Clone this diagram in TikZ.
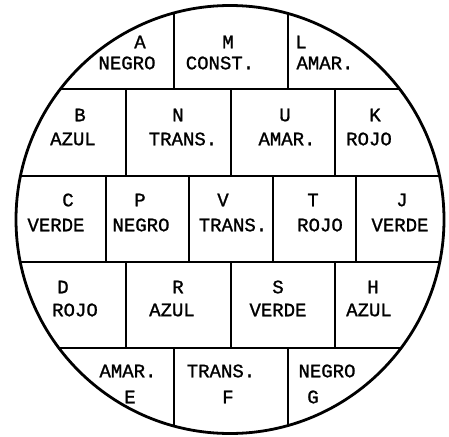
\documentclass[tikz,border=0pt]{standalone}
\usepackage{fontspec}
\newfontfamily\typer[FakeBold=1.2]{Liberation Mono}
\usetikzlibrary{calc}

\begin{document}
\begin{tikzpicture}[x=1pt, y=-1pt,
    % style of the cell texts
    lbl/.style={font=\typer\fontsize{19}{22}\selectfont, inner sep=0pt},
    % style of the dividing lines
    divider/.style={line width=1.7pt}
]

\useasboundingbox (0,0) rectangle (449,436);

% Define the centre of the disc
\coordinate (O) at (230,219.5);

% Draw the dividing lines inside the disc
\begin{scope}
\clip (O) circle[radius=214pt];
\draw[divider] (0,89) -- (449,89);
\draw[divider] (0,176) -- (449,176);
\draw[divider] (0,262) -- (449,262);
\draw[divider] (0,348) -- (449,348);
% first and last row
\draw[divider] (174,0) -- (174,89);
\draw[divider] (288,0) -- (288,89);
\draw[divider] (174,348) -- (174,436);
\draw[divider] (288,348) -- (288,436);
% second and fourth row
\draw[divider] (126,89) -- (126,176);
\draw[divider] (231,89) -- (231,176);
\draw[divider] (335,89) -- (335,176);
\draw[divider] (126,262) -- (126,348);
\draw[divider] (231,262) -- (231,348);
\draw[divider] (335,262) -- (335,348);
% middle row
\draw[divider] (106,176) -- (106,262);
\draw[divider] (189,176) -- (189,262);
\draw[divider] (273,176) -- (273,262);
\draw[divider] (356,176) -- (356,262);
\end{scope}

% Draw the disc
\draw[line width=2.8pt] (O) circle[radius=214pt];

% Add the labels, first row
\node[lbl] (A) at (140,42) {A};
\node[lbl] (A-c) at (127,63) {NEGRO};
\node[lbl] (M) at (228,42) {M};
\node[lbl] (M-c) at (220,63) {CONST.};
\node[lbl] (L) at (301,42) {L};
\node[lbl] (L-c) at (325,63) {AMAR.};

% second row
\node[lbl] (B) at (80,115) {B};
\node[lbl] (B-c) at (73,139) {AZUL};
\node[lbl] (N) at (178,115) {N};
\node[lbl] (N-c) at (183,139) {TRANS.};
\node[lbl] (U) at (285,115) {U};
\node[lbl] (U-c) at (287,139) {AMAR.};
\node[lbl] (K) at (375,115) {K};
\node[lbl] (K-c) at (369,139) {ROJO};

% third row
\node[lbl] (C) at (68,200) {C};
\node[lbl] (C-c) at (56,225) {VERDE};
\node[lbl] (P) at (140,200) {P};
\node[lbl] (P-c) at (141,225) {NEGRO};
\node[lbl] (V) at (223,200) {V};
\node[lbl] (V-c) at (233,225) {TRANS.};
\node[lbl] (T) at (313,200) {T};
\node[lbl] (T-c) at (320,225) {ROJO};
\node[lbl] (J) at (402,200) {J};
\node[lbl] (J-c) at (400,225) {VERDE};

% fourth row
\node[lbl] (D) at (63,287) {D};
\node[lbl] (D-c) at (75,310) {ROJO};
\node[lbl] (R) at (178,287) {R};
\node[lbl] (R-c) at (172,310) {AZUL};
\node[lbl] (S) at (278,287) {S};
\node[lbl] (S-c) at (278,310) {VERDE};
\node[lbl] (H) at (373,287) {H};
\node[lbl] (H-c) at (369,310) {AZUL};

% last row
\node[lbl] (E-c) at (128,371) {AMAR.};
\node[lbl] (E) at (130,397) {E};
\node[lbl] (F-c) at (221,371) {TRANS.};
\node[lbl] (F) at (228,397) {F};
\node[lbl] (G-c) at (327,371) {NEGRO};
\node[lbl] (G) at (313,397) {G};

\end{tikzpicture}
\end{document}
